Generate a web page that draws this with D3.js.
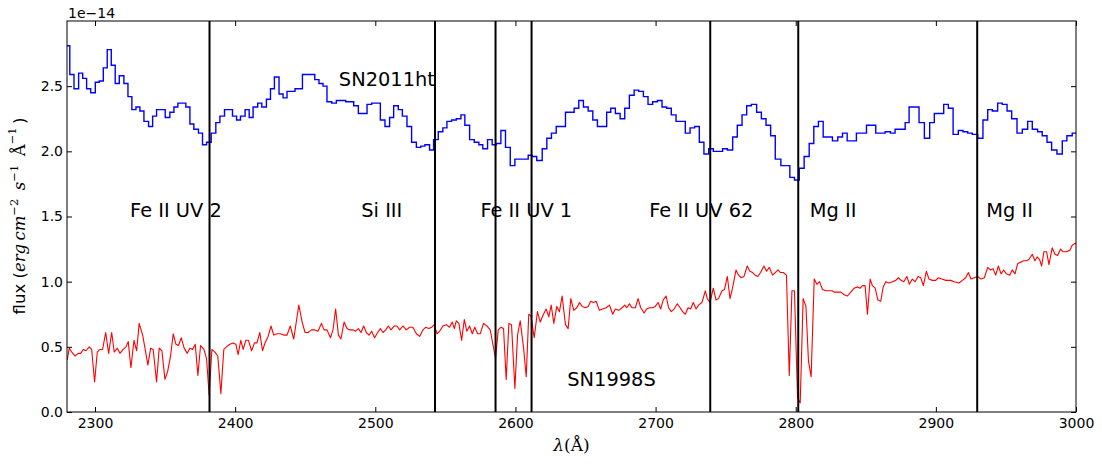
<!DOCTYPE html>
<html>
<head>
<meta charset="utf-8">
<script src="https://cdn.jsdelivr.net/npm/d3@7"></script>
<style>
  html, body { margin: 0; padding: 0; background: #fff; }
  svg { display: block; font-family: "DejaVu Sans", sans-serif; }
</style>
</head>
<body>
<svg id="chart" width="1102" height="464"></svg>
<script>
// Flux in units of 1e-14 erg cm^-2 s^-1 Å^-1.

// SN2011ht: binned spectrum, [bin start wavelength (Å), flux]
const sn2011ht = [
  [2277,2.81],[2282,2.59],[2285,2.48],[2288.3,2.60],[2291.2,2.56],[2294,2.48],[2296.9,2.45],[2300.2,2.53],
  [2303,2.54],[2305.9,2.64],[2308.7,2.78],[2311.6,2.66],[2314.4,2.52],[2317.3,2.58],[2320.6,2.52],[2323.5,2.42],
  [2326.3,2.32],[2329.2,2.34],[2332,2.31],[2334.9,2.23],[2338.2,2.19],[2341.1,2.27],[2343.9,2.32],[2350.1,2.26],
  [2353.4,2.30],[2356.3,2.34],[2359.1,2.37],[2364.8,2.34],[2367.7,2.21],[2370.5,2.17],[2373.8,2.14],[2376.7,2.05],
  [2379.6,2.07],[2382.9,2.14],[2386.2,2.22],[2389.1,2.27],[2392.4,2.32],[2398.1,2.27],[2401,2.24],[2403.8,2.27],
  [2407.1,2.32],[2410,2.26],[2412.8,2.34],[2416.1,2.37],[2419,2.34],[2422.3,2.40],[2425.2,2.48],[2428,2.57],
  [2431.3,2.44],[2434.2,2.41],[2437,2.46],[2442.7,2.48],[2448,2.59],[2456.8,2.55],[2459.8,2.52],[2462.7,2.50],
  [2465.5,2.38],[2468.9,2.37],[2472.2,2.39],[2478.9,2.38],[2484.6,2.35],[2487.9,2.29],[2494.1,2.36],[2497.4,2.37],
  [2503.6,2.24],[2506.9,2.19],[2510.2,2.26],[2513.1,2.35],[2516.4,2.32],[2519.3,2.27],[2522.6,2.19],[2525.9,2.07],
  [2529.3,2.03],[2532.5,2.04],[2535.4,2.05],[2538.7,2.01],[2541.6,2.09],[2544.9,2.15],[2548.2,2.18],[2551.1,2.23],
  [2554.4,2.24],[2557.8,2.25],[2561.1,2.28],[2563.9,2.20],[2567.3,2.09],[2570.6,2.07],[2573.9,2.05],[2576.7,2.02],
  [2580.1,2.09],[2583.4,2.05],[2586.3,2.06],[2589.6,2.16],[2592.9,2.03],[2596.3,1.89],[2599.6,1.94],[2609.1,1.97],
  [2611.9,1.96],[2615.2,1.93],[2619.1,2.02],[2622.4,2.10],[2625.7,2.14],[2629.1,2.19],[2635.7,2.30],[2641.9,2.33],
  [2645.2,2.39],[2648.5,2.34],[2651.9,2.31],[2655.2,2.24],[2658.5,2.19],[2665.1,2.30],[2668,2.33],[2671.3,2.29],
  [2674.7,2.25],[2678,2.33],[2681.3,2.43],[2684.7,2.47],[2688,2.46],[2691.3,2.42],[2694.6,2.36],[2697.9,2.38],
  [2701.3,2.39],[2704.6,2.34],[2707.9,2.33],[2711.2,2.28],[2714.6,2.23],[2721.2,2.14],[2724.6,2.18],[2727.9,2.19],
  [2731.2,2.07],[2734.5,1.98],[2737.9,2.02],[2741.2,2.00],[2747.8,2.02],[2751.2,2.01],[2755,2.11],[2758.3,2.20],
  [2761.7,2.28],[2765,2.35],[2768.3,2.36],[2772.1,2.30],[2775.5,2.25],[2778.8,2.20],[2782.1,2.12],[2785.4,1.94],
  [2789.4,1.89],[2795.8,1.80],[2799.1,1.78],[2802.5,1.87],[2806,1.96],[2809.6,2.06],[2812.9,2.19],[2816.2,2.23],
  [2819.6,2.11],[2826.2,2.08],[2830,2.11],[2833.4,2.14],[2836.7,2.08],[2843.3,2.14],[2850.5,2.20],[2857.1,2.14],
  [2863.8,2.15],[2867.6,2.14],[2870.9,2.17],[2878.1,2.22],[2880.9,2.34],[2888,2.22],[2891.8,2.10],[2895.6,2.22],
  [2898.9,2.29],[2905.6,2.36],[2908.9,2.33],[2912.3,2.13],[2916,2.16],[2919.4,2.15],[2922.7,2.14],[2926,2.13],
  [2929.9,2.10],[2933.6,2.24],[2937,2.32],[2940.3,2.31],[2944.1,2.37],[2947.4,2.36],[2950.8,2.31],[2954.1,2.25],
  [2957.9,2.14],[2961.7,2.17],[2965.5,2.23],[2968.8,2.17],[2972.6,2.15],[2975.9,2.12],[2979.3,2.07],[2982.6,2.01],
  [2986.4,1.98],[2990.2,2.08],[2993.5,2.12],[2997.3,2.14],[3002,2.14]
];

// SN1998S: [wavelength (Å), flux]
const sn1998s = [
  [2280.2,0.40],[2281.6,0.49],[2283.4,0.46],[2285.7,0.43],[2288.1,0.45],[2289.8,0.45],[2291.6,0.48],[2293.5,0.47],
  [2295.9,0.50],[2297.6,0.48],[2299.7,0.23],[2301.6,0.46],[2303.5,0.48],[2305.4,0.48],[2307.6,0.61],[2309.7,0.45],
  [2311.9,0.61],[2313.7,0.46],[2315.9,0.49],[2317.8,0.45],[2320.1,0.48],[2322.1,0.50],[2323.7,0.54],[2325.6,0.34],
  [2327.8,0.55],[2329.7,0.47],[2331.5,0.68],[2334.0,0.59],[2335.8,0.48],[2337.7,0.36],[2339.7,0.49],[2341.5,0.48],
  [2343.9,0.23],[2345.8,0.49],[2347.7,0.47],[2349.9,0.25],[2351.8,0.31],[2353.9,0.43],[2355.8,0.60],[2357.7,0.52],
  [2359.6,0.51],[2361.5,0.57],[2363.6,0.49],[2365.8,0.45],[2367.7,0.49],[2369.6,0.48],[2371.5,0.52],[2373.4,0.28],
  [2375.3,0.51],[2377.7,0.48],[2379.6,0.41],[2381.4,0.13],[2383.4,0.48],[2385.5,0.46],[2387.6,0.43],[2389.8,0.14],
  [2391.9,0.48],[2393.8,0.50],[2396.2,0.52],[2398.5,0.53],[2400.5,0.52],[2402.1,0.44],[2404.0,0.55],[2405.7,0.48],
  [2407.6,0.55],[2409.5,0.55],[2411.7,0.47],[2413.8,0.53],[2415.6,0.53],[2417.6,0.61],[2419.5,0.47],[2421.3,0.53],
  [2423.5,0.58],[2425.6,0.66],[2427.5,0.59],[2429.9,0.60],[2432.3,0.60],[2434.7,0.59],[2437.0,0.59],[2439.3,0.66],
  [2441.8,0.56],[2445.4,0.82],[2448.0,0.68],[2449.9,0.61],[2452.0,0.61],[2454.4,0.63],[2456.8,0.63],[2459.1,0.62],
  [2461.6,0.68],[2463.4,0.63],[2465.5,0.63],[2468.0,0.57],[2469.8,0.63],[2471.7,0.79],[2473.7,0.59],[2475.5,0.56],
  [2477.7,0.69],[2479.8,0.64],[2481.7,0.63],[2484.1,0.63],[2486.0,0.62],[2487.9,0.64],[2489.8,0.61],[2491.7,0.66],
  [2493.6,0.61],[2495.5,0.59],[2497.4,0.62],[2499.5,0.57],[2501.7,0.61],[2503.6,0.64],[2505.5,0.61],[2507.4,0.63],
  [2509.3,0.66],[2511.2,0.63],[2513.6,0.66],[2515.4,0.66],[2517.4,0.63],[2519.7,0.66],[2522.1,0.63],[2524.5,0.65],
  [2526.8,0.65],[2529.3,0.60],[2531.6,0.58],[2534.0,0.63],[2535.9,0.65],[2538.2,0.64],[2540.2,0.65],[2542.1,0.67],
  [2544.0,0.60],[2545.9,0.62],[2548.2,0.66],[2550.6,0.67],[2553.0,0.65],[2554.9,0.69],[2556.4,0.64],[2557.8,0.70],
  [2559.6,0.68],[2561.6,0.55],[2563.5,0.71],[2565.3,0.62],[2567.3,0.66],[2569.2,0.60],[2571.0,0.65],[2573.0,0.60],
  [2574.9,0.60],[2577.2,0.68],[2579.6,0.66],[2582.0,0.63],[2583.9,0.52],[2585.8,0.41],[2587.7,0.63],[2589.6,0.65],
  [2591.5,0.64],[2593.4,0.25],[2595.3,0.68],[2597.2,0.67],[2599.6,0.18],[2601.5,0.59],[2603.4,0.70],[2605.8,0.49],
  [2607.7,0.27],[2609.5,0.75],[2611.0,0.74],[2613.4,0.57],[2615.7,0.77],[2617.7,0.69],[2620.0,0.75],[2621.9,0.79],
  [2623.8,0.73],[2625.5,0.82],[2627.4,0.68],[2629.5,0.81],[2631.4,0.77],[2633.3,0.89],[2635.7,0.67],[2637.6,0.64],
  [2639.5,0.87],[2641.6,0.78],[2643.8,0.80],[2645.7,0.84],[2647.6,0.81],[2650.0,0.80],[2651.9,0.81],[2653.7,0.85],
  [2655.6,0.84],[2657.6,0.85],[2659.9,0.78],[2662.3,0.79],[2664.7,0.80],[2667.1,0.82],[2669.4,0.75],[2671.3,0.79],
  [2673.7,0.78],[2676.1,0.80],[2678.0,0.82],[2679.4,0.80],[2681.3,0.83],[2683.2,0.80],[2685.6,0.80],[2687.5,0.87],
  [2689.4,0.80],[2691.8,0.76],[2693.6,0.79],[2695.6,0.80],[2697.9,0.80],[2699.8,0.81],[2701.8,0.84],[2703.6,0.79],
  [2705.5,0.86],[2707.5,0.89],[2709.3,0.80],[2711.2,0.77],[2713.2,0.79],[2715.5,0.83],[2717.5,0.80],[2719.3,0.77],
  [2721.2,0.75],[2723.2,0.80],[2725.0,0.79],[2726.9,0.84],[2728.9,0.79],[2730.7,0.82],[2733.1,0.84],[2735.5,0.93],
  [2736.9,0.87],[2738.8,0.84],[2741.2,0.95],[2743.1,0.86],[2744.9,0.87],[2747.4,0.93],[2749.2,0.94],[2751.2,1.04],
  [2753.1,0.87],[2754.9,0.95],[2757.4,1.09],[2759.2,1.05],[2761.1,1.03],[2763.1,1.04],[2765.4,1.12],[2767.3,1.08],
  [2769.2,1.07],[2771.1,1.05],[2773.0,1.04],[2774.9,1.07],[2777.3,1.12],[2779.2,1.08],[2781.1,1.11],[2783.5,1.05],
  [2785.4,1.07],[2787.3,1.09],[2789.2,1.07],[2791.1,1.07],[2793.4,1.05],[2795.4,0.28],[2797.3,0.93],[2799.1,0.93],
  [2801.3,0.11],[2803.2,0.07],[2805.3,0.87],[2807.3,0.81],[2809.1,0.39],[2811.0,0.27],[2813.2,1.02],[2815.1,0.98],
  [2817.0,1.00],[2819.1,0.94],[2821.5,0.93],[2823.9,0.93],[2825.8,0.93],[2827.4,0.92],[2829.8,0.92],[2832.2,0.92],
  [2834.6,0.90],[2836.9,0.89],[2839.3,0.92],[2841.7,0.95],[2844.0,0.96],[2846.0,0.95],[2847.6,0.97],[2849.5,0.97],
  [2851.2,0.75],[2853.1,1.02],[2854.7,0.97],[2856.7,0.95],[2858.6,0.86],[2860.7,0.85],[2862.4,0.96],[2864.3,1.00],
  [2866.6,0.99],[2869.0,1.00],[2871.4,1.01],[2873.3,1.03],[2875.2,1.01],[2877.1,1.00],[2879.3,1.04],[2881.1,0.98],
  [2883.2,1.02],[2885.2,1.00],[2887.3,1.04],[2889.2,1.03],[2891.1,0.97],[2893.2,1.08],[2895.1,1.02],[2897.5,1.01],
  [2899.9,1.01],[2901.8,1.03],[2904.2,1.02],[2907.1,1.01],[2910.6,1.01],[2913.0,1.00],[2916.5,0.99],[2918.9,1.01],
  [2921.3,1.03],[2923.2,1.07],[2925.1,1.02],[2927.4,1.03],[2929.8,1.04],[2932.2,1.02],[2934.6,1.03],[2937.0,1.11],
  [2938.9,1.09],[2940.8,1.10],[2942.7,1.05],[2944.6,1.12],[2946.5,1.06],[2948.4,1.09],[2950.3,1.06],[2952.7,1.05],
  [2954.5,1.09],[2956.5,1.06],[2958.4,1.14],[2960.7,1.15],[2962.6,1.16],[2964.5,1.16],[2966.4,1.17],[2968.8,1.21],
  [2970.7,1.16],[2972.3,1.19],[2974.0,1.17],[2975.5,1.12],[2977.1,1.23],[2979.0,1.23],[2980.7,1.13],[2983.0,1.26],
  [2985.0,1.21],[2986.9,1.20],[2989.0,1.25],[2990.7,1.23],[2993.0,1.23],[2995.5,1.24],[2997.3,1.28],[2998.8,1.29],
  [3001,1.30]
];

// Line identifications: marker wavelengths and labels
const lineWavelengths = [2381.7, 2542.6, 2585.8, 2611.5, 2739, 2801.8, 2929.5];
const lineLabels = [
  { text: "Fe II UV 2", wl: 2325, f: 1.5 },
  { text: "Si III", wl: 2490, f: 1.5 },
  { text: "Fe II UV 1", wl: 2575, f: 1.5 },
  { text: "Fe II UV 62", wl: 2695.5, f: 1.5 },
  { text: "Mg II", wl: 2810, f: 1.5 },
  { text: "Mg II", wl: 2936, f: 1.5 }
];
const seriesLabels = [
  { text: "SN2011ht", wl: 2474, f: 2.5 },
  { text: "SN1998S", wl: 2637, f: 0.2 }
];

const xTicks = [2300, 2400, 2500, 2600, 2700, 2800, 2900, 3000];
const yTicks = [0.0, 0.5, 1.0, 1.5, 2.0, 2.5];

const mLeft = 67, mRight = 1076, mTop = 21, mBottom = 412;
const svg = d3.select("#chart");

const x = d3.scaleLinear().domain([2280, 3000]).range([mLeft, mRight]);
const y = d3.scaleLinear().domain([0, 3]).range([mBottom, mTop]);

svg.append("defs").append("clipPath").attr("id", "plotClip")
  .append("rect").attr("x", mLeft).attr("y", mTop)
  .attr("width", mRight - mLeft).attr("height", mBottom - mTop);

const plot = svg.append("g").attr("clip-path", "url(#plotClip)");

// SN2011ht binned spectrum (step)
plot.append("path")
  .datum(sn2011ht)
  .attr("fill", "none")
  .attr("stroke", "#0000ff")
  .attr("stroke-width", 1.4)
  .attr("d", d3.line().x(d => x(d[0])).y(d => y(d[1])).curve(d3.curveStepAfter));

// SN1998S spectrum
plot.append("path")
  .datum(sn1998s)
  .attr("fill", "none")
  .attr("stroke", "#ff0000")
  .attr("stroke-width", 1.1)
  .attr("stroke-linejoin", "round")
  .attr("d", d3.line().x(d => x(d[0])).y(d => y(d[1])));

// Line markers
plot.selectAll("line.marker")
  .data(lineWavelengths)
  .join("line")
  .attr("class", "marker")
  .attr("x1", d => x(d)).attr("x2", d => x(d))
  .attr("y1", mTop).attr("y2", mBottom)
  .attr("stroke", "#000")
  .attr("stroke-width", 2);

// Labels
svg.selectAll("text.linelabel")
  .data(lineLabels.concat(seriesLabels))
  .join("text")
  .attr("class", "linelabel")
  .attr("x", d => x(d.wl))
  .attr("y", d => y(d.f))
  .attr("font-size", "19.4px")
  .attr("fill", "#000")
  .text(d => d.text);

// Axes with inward ticks on all four sides
const tickLen = 5;
const fmtY = d3.format(".1f");

const gBottom = svg.append("g").attr("transform", `translate(0,${mBottom})`)
  .call(d3.axisBottom(x).tickValues(xTicks).tickSizeInner(-tickLen).tickSizeOuter(0).tickPadding(6).tickFormat(d3.format("d")));
const gTop = svg.append("g").attr("transform", `translate(0,${mTop})`)
  .call(d3.axisTop(x).tickValues(xTicks).tickSizeInner(-tickLen).tickSizeOuter(0).tickFormat(""));
const gLeft = svg.append("g").attr("transform", `translate(${mLeft},0)`)
  .call(d3.axisLeft(y).tickValues(yTicks).tickSizeInner(-tickLen).tickSizeOuter(0).tickPadding(4).tickFormat(fmtY));
const gRight = svg.append("g").attr("transform", `translate(${mRight},0)`)
  .call(d3.axisRight(y).tickValues(yTicks).tickSizeInner(-tickLen).tickSizeOuter(0).tickFormat(""));

[gBottom, gTop, gLeft, gRight].forEach(g => {
  g.select(".domain").remove();
  g.selectAll(".tick line").attr("stroke", "#000").attr("stroke-width", 1);
  g.selectAll(".tick text")
    .attr("font-family", "'DejaVu Sans', sans-serif")
    .attr("font-size", "14px")
    .attr("fill", "#000");
});

// Frame
svg.append("rect")
  .attr("x", mLeft).attr("y", mTop)
  .attr("width", mRight - mLeft).attr("height", mBottom - mTop)
  .attr("fill", "none")
  .attr("stroke", "#000")
  .attr("stroke-width", 1);

// Offset text for the flux axis
svg.append("text")
  .attr("x", mLeft + 1).attr("y", 18)
  .attr("font-size", "14px")
  .text("1e\u221214");

// X axis label
const xl = svg.append("text")
  .attr("x", (mLeft + mRight) / 2).attr("y", 451)
  .attr("text-anchor", "middle")
  .attr("font-family", "'DejaVu Serif', serif")
  .attr("font-size", "17px");
xl.append("tspan").attr("font-style", "italic").text("\u03bb");
xl.append("tspan").text("(\u00c5)");

// Y axis label
const yl = svg.append("text")
  .attr("transform", "translate(25,216) rotate(-90)")
  .attr("text-anchor", "middle")
  .attr("font-size", "16.5px");
const serif = "'DejaVu Serif', serif";
yl.append("tspan").text("flux (");
yl.append("tspan").attr("font-family", serif).attr("font-style", "italic").text("erg\u2009cm");
yl.append("tspan").attr("font-family", serif).attr("font-size", "11.5px").attr("dy", -7).text("\u22122");
yl.append("tspan").attr("font-family", serif).attr("font-style", "italic").attr("dy", 7).text("\u2009 s");
yl.append("tspan").attr("font-family", serif).attr("font-size", "11.5px").attr("dy", -7).text("\u22121");
yl.append("tspan").attr("font-family", serif).attr("dy", 7).text("\u2009 \u00c5");
yl.append("tspan").attr("font-family", serif).attr("font-size", "11.5px").attr("dy", -9).text("\u22121");
yl.append("tspan").attr("dy", 9).text("\u2009)");
</script>
</body>
</html>
